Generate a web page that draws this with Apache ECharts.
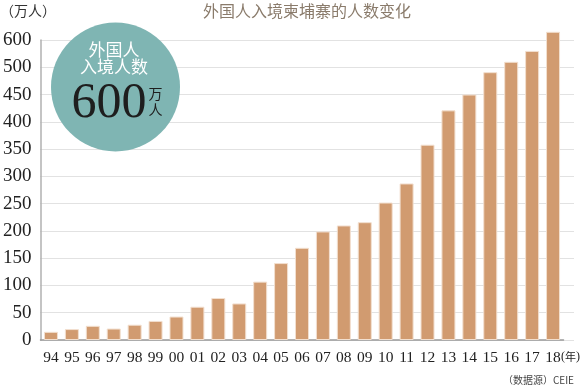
<!DOCTYPE html>
<html>
<head>
<meta charset="utf-8">
<script src="https://cdn.jsdelivr.net/npm/echarts@6/dist/echarts.min.js"></script>
<style>html,body{margin:0;padding:0;background:#fff}#c{width:581px;height:386px}</style>
</head>
<body>
<div id="c"></div>
<script>
var categories = ['94','95','96','97','98','99','00','01','02','03','04','05','06','07','08','09','10','11','12','13','14','15','16','17','18'];
var visitors = [15,20,26,21,28,35,43,61,77,67,107,141,169,199,210,216,252,287,358,421,450,491,510,530,565];
var yTickLabels = ['0','50','100','150','200','250','300','350','400','450','500','600'];

var serif = '"Liberation Serif","DejaVu Serif",serif';
var cjk = '"Noto Sans CJK SC","Noto Sans",sans-serif';

var chart = echarts.init(document.getElementById('c'), null, {renderer:'canvas'});
chart.setOption({
  animation: false,
  backgroundColor: '#fff',
  grid: [
    {left: 40, right: 17.5, top: 40, bottom: 46, containLabel: false},
    {left: 40, right: 7, top: 40, bottom: 46, containLabel: false}
  ],
  xAxis: [
    {type: 'category', gridIndex: 0, data: categories,
     axisLine: {show: true, lineStyle: {color: '#9a9a9a', width: 1.5}},
     axisTick: {show: false},
     axisLabel: {color: '#222', fontFamily: serif, fontSize: 15.5, margin: 10}},
    {type: 'value', gridIndex: 1, min: 0, max: 1, show: false}
  ],
  yAxis: [
    {type: 'value', gridIndex: 0, min: 0, max: 550, interval: 50,
     axisLine: {show: true, lineStyle: {color: '#b0b0b0', width: 1.5}},
     axisTick: {show: false},
     splitLine: {show: false},
     axisLabel: {color: '#222', fontFamily: serif, fontSize: 19, margin: 9,
       formatter: function (v) { return yTickLabels[Math.round(v / 50)]; }}},
    {type: 'value', gridIndex: 1, min: 0, max: 550, interval: 50,
     axisLine: {show: false}, axisTick: {show: false}, axisLabel: {show: false},
     splitLine: {show: true, lineStyle: {color: '#e2e2e2', width: 1.2}}}
  ],
  series: [
    {type: 'bar', xAxisIndex: 0, yAxisIndex: 0, data: visitors, barWidth: 14, clip: false,
     itemStyle: {color: '#d19b70', borderColor: '#f2dfcf', borderWidth: 1}, z: 3}
  ],
  graphic: [
    {type: 'text', left: 0, top: 4, style: {text: '（万人）', font: '14px ' + cjk, fill: '#333'}},
    {type: 'text', x: 307, y: 11, style: {text: '外国人入境柬埔寨的人数变化', font: '16px ' + cjk, fill: '#8a7b6b', align: 'center', verticalAlign: 'middle'}},
    {type: 'text', x: 561, y: 357, style: {
      text: '{p|(}{c|年}{p|)}', align: 'left', verticalAlign: 'middle',
      rich: {p: {fontFamily: serif, fontSize: 12, fill: '#222'}, c: {fontFamily: cjk, fontSize: 11, fill: '#222'}}}},
    {type: 'text', x: 574, y: 380, style: {text: '（数据源）CEIE', font: '10px ' + cjk, fill: '#444', align: 'right', verticalAlign: 'middle'}},
    {type: 'circle', shape: {cx: 115.5, cy: 87, r: 64.5}, style: {fill: '#7fb5b3'}, z: 10},
    {type: 'text', x: 114, y: 50, z: 11, style: {text: '外国人', font: '17px ' + cjk, fill: '#fff', align: 'center', verticalAlign: 'middle'}},
    {type: 'text', x: 114, y: 67, z: 11, style: {text: '入境人数', font: '17px ' + cjk, fill: '#fff', align: 'center', verticalAlign: 'middle'}},
    {type: 'text', x: 109, y: 104, z: 11, style: {text: '600', font: '50px ' + serif, fill: '#1e1e1e', align: 'center', verticalAlign: 'middle'}},
    {type: 'text', x: 155.5, y: 94, z: 11, style: {text: '万', font: '14px ' + cjk, fill: '#1e1e1e', align: 'center', verticalAlign: 'middle'}},
    {type: 'text', x: 155.5, y: 110, z: 11, style: {text: '人', font: '14px ' + cjk, fill: '#1e1e1e', align: 'center', verticalAlign: 'middle'}}
  ]
});
</script>
</body>
</html>
